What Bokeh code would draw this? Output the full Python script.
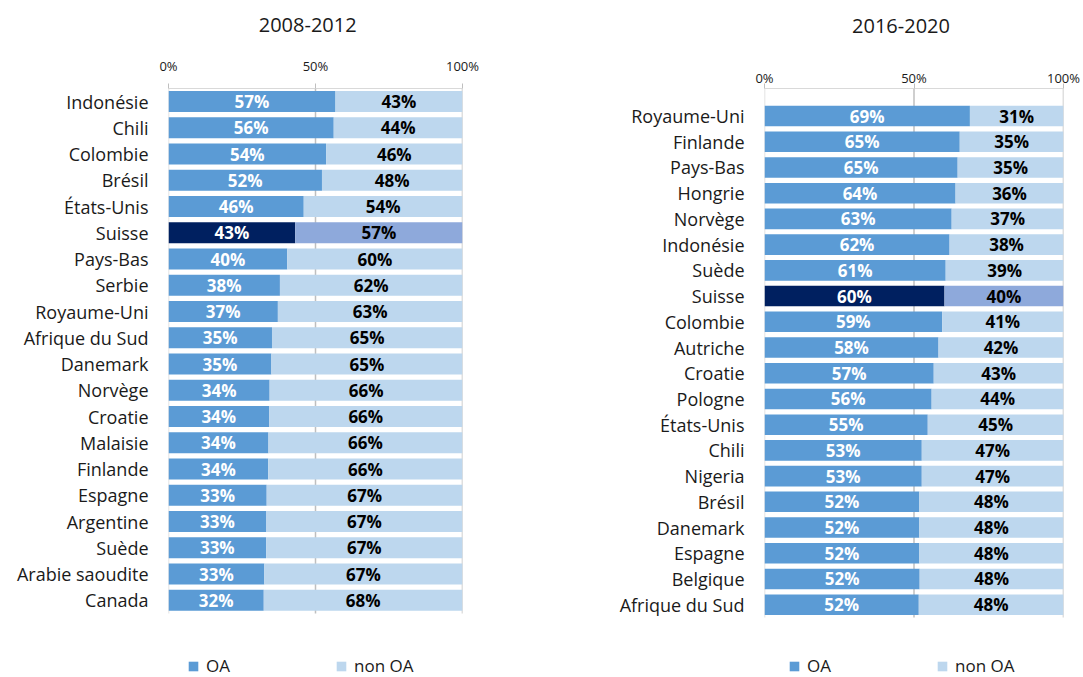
from bokeh.plotting import figure
from bokeh.models import (ColumnDataSource, Range1d, FixedTicker, PrintfTickFormatter,
                          Legend, LegendItem)
from bokeh.layouts import row
from bokeh.embed import file_html
from bokeh.resources import INLINE
from bokeh.core.properties import value

# ---------------- data ----------------
title_0812 = "2008-2012"
countries_0812 = ["Indonésie", "Chili", "Colombie", "Brésil", "États-Unis", "Suisse",
                  "Pays-Bas", "Serbie", "Royaume-Uni", "Afrique du Sud", "Danemark",
                  "Norvège", "Croatie", "Malaisie", "Finlande", "Espagne", "Argentine",
                  "Suède", "Arabie saoudite", "Canada"]
oa_0812 = [56.8, 56.2, 53.6, 52.2, 46.0, 43.1, 40.4, 37.9, 37.2, 35.2, 35.0,
           34.4, 34.2, 34.0, 33.9, 33.4, 33.3, 33.2, 32.6, 32.4]
non_oa_0812 = [43.2, 43.8, 46.4, 47.8, 54.0, 56.9, 59.6, 62.1, 62.8, 64.8, 65.0,
               65.6, 65.8, 66.0, 66.1, 66.6, 66.7, 66.8, 67.4, 67.6]

title_1620 = "2016-2020"
countries_1620 = ["Royaume-Uni", "Finlande", "Pays-Bas", "Hongrie", "Norvège", "Indonésie",
                  "Suède", "Suisse", "Colombie", "Autriche", "Croatie", "Pologne",
                  "États-Unis", "Chili", "Nigeria", "Brésil", "Danemark", "Espagne",
                  "Belgique", "Afrique du Sud"]
oa_1620 = [68.7, 65.3, 64.6, 63.9, 62.6, 61.9, 60.6, 60.2, 59.4, 58.2, 56.6, 55.9,
           54.6, 52.6, 52.6, 51.8, 51.8, 51.8, 51.9, 51.6]
non_oa_1620 = [31.3, 34.7, 35.4, 36.1, 37.4, 38.1, 39.4, 39.8, 40.6, 41.8, 43.4, 44.1,
               45.4, 47.4, 47.4, 48.2, 48.2, 48.2, 48.1, 48.4]

x_ticks = [0, 50, 100]
series_names = ["OA", "non OA"]
highlight = "Suisse"

# ---------------- style ----------------
FONT = "Open Sans"
C_OA, C_NON = "#5B9BD5", "#BDD7EE"
C_OA_H, C_NON_H = "#002060", "#8EA9DB"
TXT = "#1a1a1a"
GRID = "#BFBFBF"
AXIS = "#D9D9D9"
NBSP = "\u00a0"


def make_panel(title, countries, oa, non, width, height, bl, br, bt,
               top_pad, bottom_pad, title_shift, title_standoff, legend_x, tick_standoff):
    n = len(countries)
    idx = list(range(n))
    src = ColumnDataSource(dict(
        y=idx,
        oa_end=oa,
        non_end=[a + b for a, b in zip(oa, non)],
        oa_mid=[a / 2 for a in oa],
        non_mid=[a + b / 2 for a, b in zip(oa, non)],
        oa_lab=[f"{round(a)}%" for a in oa],
        non_lab=[f"{round(b)}%" for b in non],
        oa_col=[C_OA_H if c == highlight else C_OA for c in countries],
        non_col=[C_NON_H if c == highlight else C_NON for c in countries],
    ))
    y_top = -0.5 - top_pad
    y_bot = n - 0.5
    p = figure(width=width, height=height,
               x_range=Range1d(0, 100), y_range=Range1d(y_bot + bottom_pad, y_top),
               x_axis_location="above", output_backend="svg", toolbar_location=None,
               min_border_left=bl, min_border_right=br, min_border_top=bt,
               min_border_bottom=0)
    p.outline_line_color = None
    p.background_fill_color = "white"

    # vertical gridlines / value axis line, limited to the bar area
    gx = x_ticks
    p.segment(x0=gx, y0=[y_top] * len(gx), x1=gx, y1=[y_bot] * len(gx),
              line_color=[AXIS] + [GRID] * (len(gx) - 1), line_width=1.5)

    r1 = p.hbar(y="y", left=0, right="oa_end", height=0.8, fill_color="oa_col",
                line_color=None, source=src)
    r2 = p.hbar(y="y", left="oa_end", right="non_end", height=0.8, fill_color="non_col",
                line_color=None, source=src)

    p.text(x="oa_mid", y="y", text="oa_lab", text_color="white",
           text_font=value(FONT), text_font_style="bold", text_font_size="17px",
           text_align="center", text_baseline="middle", source=src)
    p.text(x="non_mid", y="y", text="non_lab", text_color="black",
           text_font=value(FONT), text_font_style="bold", text_font_size="17px",
           text_align="center", text_baseline="middle", source=src)

    # x axis (top); its axis label carries the panel title
    xa = p.xaxis[0]
    xa.ticker = FixedTicker(ticks=x_ticks)
    xa.formatter = PrintfTickFormatter(format="%d%%")
    xa.axis_line_color = AXIS
    xa.major_tick_line_color = GRID
    xa.major_tick_out = 5
    xa.major_tick_in = 0
    xa.minor_tick_line_color = None
    xa.major_label_text_font = FONT
    xa.major_label_text_font_size = "13px"
    xa.major_label_text_color = TXT
    xa.major_label_standoff = tick_standoff
    xa.axis_label = title + NBSP * title_shift
    xa.axis_label_text_font = FONT
    xa.axis_label_text_font_size = "20px"
    xa.axis_label_text_font_style = "normal"
    xa.axis_label_text_color = TXT
    xa.axis_label_standoff = title_standoff

    # y axis (categories)
    ya = p.yaxis[0]
    ya.ticker = FixedTicker(ticks=idx)
    ya.major_label_overrides = {i: c for i, c in zip(idx, countries)}
    ya.axis_line_color = None
    ya.major_tick_line_color = None
    ya.major_tick_out = 0
    ya.major_tick_in = 0
    ya.minor_tick_line_color = None
    ya.major_label_text_font = FONT
    ya.major_label_text_font_size = "18px"
    ya.major_label_text_color = TXT
    ya.major_label_standoff = 20

    p.xgrid.visible = False
    p.ygrid.visible = False

    legend = Legend(items=[LegendItem(label=series_names[0], renderers=[r1], index=0),
                           LegendItem(label=series_names[1], renderers=[r2], index=0)],
                    location=(legend_x, 0), orientation="horizontal", spacing=105,
                    glyph_width=12, glyph_height=12, label_standoff=7,
                    label_text_font=FONT, label_text_font_size="17px",
                    label_text_color=TXT, border_line_color=None,
                    background_fill_alpha=0, padding=0, margin=0)
    p.add_layout(legend)
    return p


# bottom_pad: empty rows below the bars that hold the legend
p1 = make_panel(title_0812, countries_0812, oa_0812, non_oa_0812,
                width=538, height=677, bl=168, br=76, bt=88,
                top_pad=0.0, bottom_pad=2.44, title_shift=3, title_standoff=16,
                legend_x=19, tick_standoff=9)
p2 = make_panel(title_1620, countries_1620, oa_1620, non_oa_1620,
                width=545, height=677, bl=226, br=20, bt=86,
                top_pad=0.57, bottom_pad=2.33, title_shift=5, title_standoff=27,
                legend_x=24, tick_standoff=-3)

layout = row(p1, p2)
open("out.html", "w").write(file_html(layout, INLINE))
